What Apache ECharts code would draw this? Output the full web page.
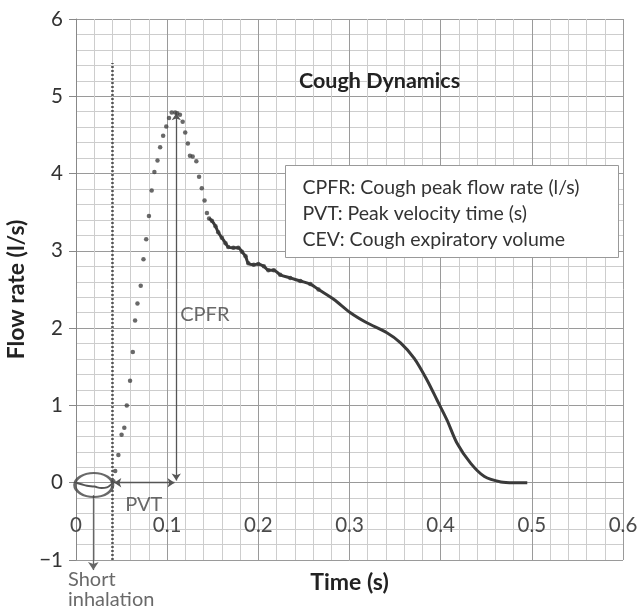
<!DOCTYPE html>
<html><head><meta charset="utf-8">
<script src="https://cdn.jsdelivr.net/npm/echarts@6/dist/echarts.min.js"></script>
<style>html,body{margin:0;padding:0;background:#fff}#c{width:638px;height:608px}</style>
</head><body><div id="c"></div>
<script>
// ---- data ----
const xTicks = [0, 0.1, 0.2, 0.3, 0.4, 0.5, 0.6];
const yTicks = [-1, 0, 1, 2, 3, 4, 5, 6];
const inhaleCurve = [[0,0],[0.006,-0.02],[0.012,-0.04],[0.02,-0.05],[0.028,-0.07],[0.034,-0.06],[0.038,-0.03],[0.041,0]];
const flowDots = [
 [0.041,0.02],[0.043,0.15],[0.0465,0.36],[0.050,0.62],[0.053,0.71],[0.0557,1.00],[0.0593,1.32],[0.0623,1.69],
 [0.0648,2.10],[0.0674,2.32],[0.071,2.55],[0.074,2.89],[0.077,3.15],[0.080,3.45],[0.083,3.78],[0.086,4.02],
 [0.0894,4.17],[0.0923,4.34],[0.0956,4.49],[0.099,4.61],[0.102,4.72],[0.105,4.79],[0.1088,4.79],[0.111,4.78],
 [0.114,4.76],[0.117,4.67],[0.1198,4.53],[0.1227,4.39],[0.125,4.23],[0.128,4.22],[0.132,4.16],[0.135,3.96],
 [0.138,3.81],[0.141,3.65],[0.1436,3.49],[0.146,3.42],[0.149,3.39],[0.153,3.32],[0.156,3.24],[0.160,3.17],
 [0.164,3.10],[0.167,3.05],[0.1726,3.04],[0.178,3.04],[0.182,2.99],[0.186,2.93],[0.189,2.84],[0.195,2.82],
 [0.200,2.83],[0.206,2.80],[0.211,2.75],[0.217,2.75],[0.224,2.69],[0.235,2.65],[0.246,2.61],[0.257,2.57],[0.266,2.50]
];
const flowTail = [
 [0.146,3.42],[0.149,3.39],[0.153,3.32],[0.156,3.24],[0.160,3.17],[0.164,3.10],[0.167,3.05],[0.1726,3.04],[0.178,3.04],
 [0.182,2.99],[0.186,2.93],[0.189,2.84],[0.195,2.82],[0.200,2.83],[0.206,2.80],[0.211,2.75],[0.217,2.75],[0.224,2.69],
 [0.235,2.65],[0.246,2.61],[0.257,2.57],[0.266,2.50],[0.283,2.37],[0.301,2.20],[0.319,2.07],[0.341,1.94],[0.356,1.81],
 [0.371,1.61],[0.385,1.33],[0.396,1.07],[0.407,0.81],[0.418,0.51],[0.433,0.25],[0.448,0.08],[0.466,0.01],[0.48,0.0],[0.495,0.0]
];
const startLine = [[0.04,-1],[0.04,5.43]];
const cpfrArrow = [[0.11,0.03],[0.11,4.78]];
const pvtArrow = [[0.042,0],[0.108,0]];
const inhaleArrow = [[0.019,-0.16],[0.019,-1.13]];
const inhaleMark = [[0.0195,-0.03]];
const annotations = [
 {value:[0.1143,2.17], text:'CPFR'},
 {value:[0.054,-0.285], text:'PVT'},
 {value:[-0.0088,-1.255], text:'Short'},
 {value:[-0.0088,-1.51], text:'inhalation'}
];
const titleText = 'Cough Dynamics';
const legendLines = ['CPFR: Cough peak flow rate (l/s)','PVT: Peak velocity time (s)','CEV: Cough expiratory volume'];

const FONT = 'Lato';
const chart = echarts.init(document.getElementById('c'), null, {renderer:'canvas'});
chart.setOption({
  animation:false,
  backgroundColor:'#fff',
  textStyle:{fontFamily:FONT},
  title:{text:titleText, left:294, top:65, textStyle:{fontFamily:FONT, fontSize:21.5, fontWeight:'bold', color:'#222'}},
  grid:{left:76, right:15, top:19, bottom:48, containLabel:false, outerBoundsMode:'none'},
  xAxis:{
    type:'value', min:xTicks[0], max:xTicks[xTicks.length-1], interval:0.1,
    axisLine:{show:true, lineStyle:{color:'#999', width:1}},
    axisTick:{show:false},
    axisLabel:{margin:-45, fontSize:20.5, color:'#4a4a4a', fontFamily:FONT, formatter:v=>v===0?'0':v.toFixed(1)},
    splitLine:{show:true, lineStyle:{color:'#9a9a9a', width:1}},
    minorTick:{show:false, splitNumber:5},
    minorSplitLine:{show:true, lineStyle:{color:'#cdcdcd', width:1}},
    name:'Time (s)', nameLocation:'middle', nameGap:11,
    nameTextStyle:{fontFamily:FONT, fontSize:23, fontWeight:'bold', color:'#222'}
  },
  yAxis:{
    type:'value', min:yTicks[0], max:yTicks[yTicks.length-1], interval:1,
    axisLine:{show:true, lineStyle:{color:'#888', width:1}},
    axisTick:{show:true, length:7, lineStyle:{color:'#888'}},
    axisLabel:{margin:13, fontSize:20.5, color:'#333', fontFamily:FONT, formatter:v=>String(v).replace('-','\u2212')},
    splitLine:{show:true, lineStyle:{color:'#9a9a9a', width:1}},
    minorTick:{show:false, splitNumber:5},
    minorSplitLine:{show:true, lineStyle:{color:'#cdcdcd', width:1}},
    name:'Flow rate (l/s)', nameLocation:'middle', nameGap:44, nameRotate:90,
    nameTextStyle:{fontFamily:FONT, fontSize:23, fontWeight:'bold', color:'#222'}
  },
  graphic:[{
    type:'group', left:285, top:165, z:100,
    children:[
      {type:'rect', z:100, shape:{x:0,y:0,width:333,height:92}, style:{fill:'#fff', stroke:'#999', lineWidth:1}},
      {type:'text', z:101, x:17, y:22, style:{text:legendLines[0], fontFamily:FONT, fontSize:19.5, fill:'#333', verticalAlign:'middle'}},
      {type:'text', z:101, x:17, y:48, style:{text:legendLines[1], fontFamily:FONT, fontSize:19.5, fill:'#333', verticalAlign:'middle'}},
      {type:'text', z:101, x:17, y:74, style:{text:legendLines[2], fontFamily:FONT, fontSize:19.5, fill:'#333', verticalAlign:'middle'}}
    ]
  }],
  series:[
    {type:'line', data:startLine, showSymbol:false, silent:true, clip:false,
     lineStyle:{color:'#555', width:2.5, type:[2,2]}},
    {type:'line', data:inhaleCurve, showSymbol:false, smooth:0.4, lineStyle:{color:'#555', width:2}},
    {type:'line', data:flowTail, showSymbol:false, smooth:0.3, lineStyle:{color:'#3a3a3a', width:3}},
    {type:'scatter', data:flowDots, symbolSize:4.5, itemStyle:{color:'#444'}},
    {type:'lines', coordinateSystem:'cartesian2d', clip:false, symbol:['arrow','arrow'], symbolSize:7,
     lineStyle:{color:'#555', width:1.3, opacity:1},
     data:[{coords:cpfrArrow},{coords:pvtArrow}]},
    {type:'lines', coordinateSystem:'cartesian2d', clip:false, symbol:['none','arrow'], symbolSize:8,
     lineStyle:{color:'#666', width:1.3, opacity:1},
     data:[{coords:inhaleArrow}]},
    {type:'scatter', data:inhaleMark, symbol:'circle', symbolSize:[38,24], clip:false,
     itemStyle:{color:'rgba(0,0,0,0)', borderColor:'#444', borderWidth:2.5}},
    {type:'scatter', data:annotations.map(a=>({value:a.value, name:a.text})), symbolSize:0, clip:false, silent:true,
     label:{show:true, position:'inside', align:'left', verticalAlign:'middle', formatter:p=>p.name,
            fontFamily:FONT, fontSize:20, color:'#444'}}
  ]
});
</script></body></html>
